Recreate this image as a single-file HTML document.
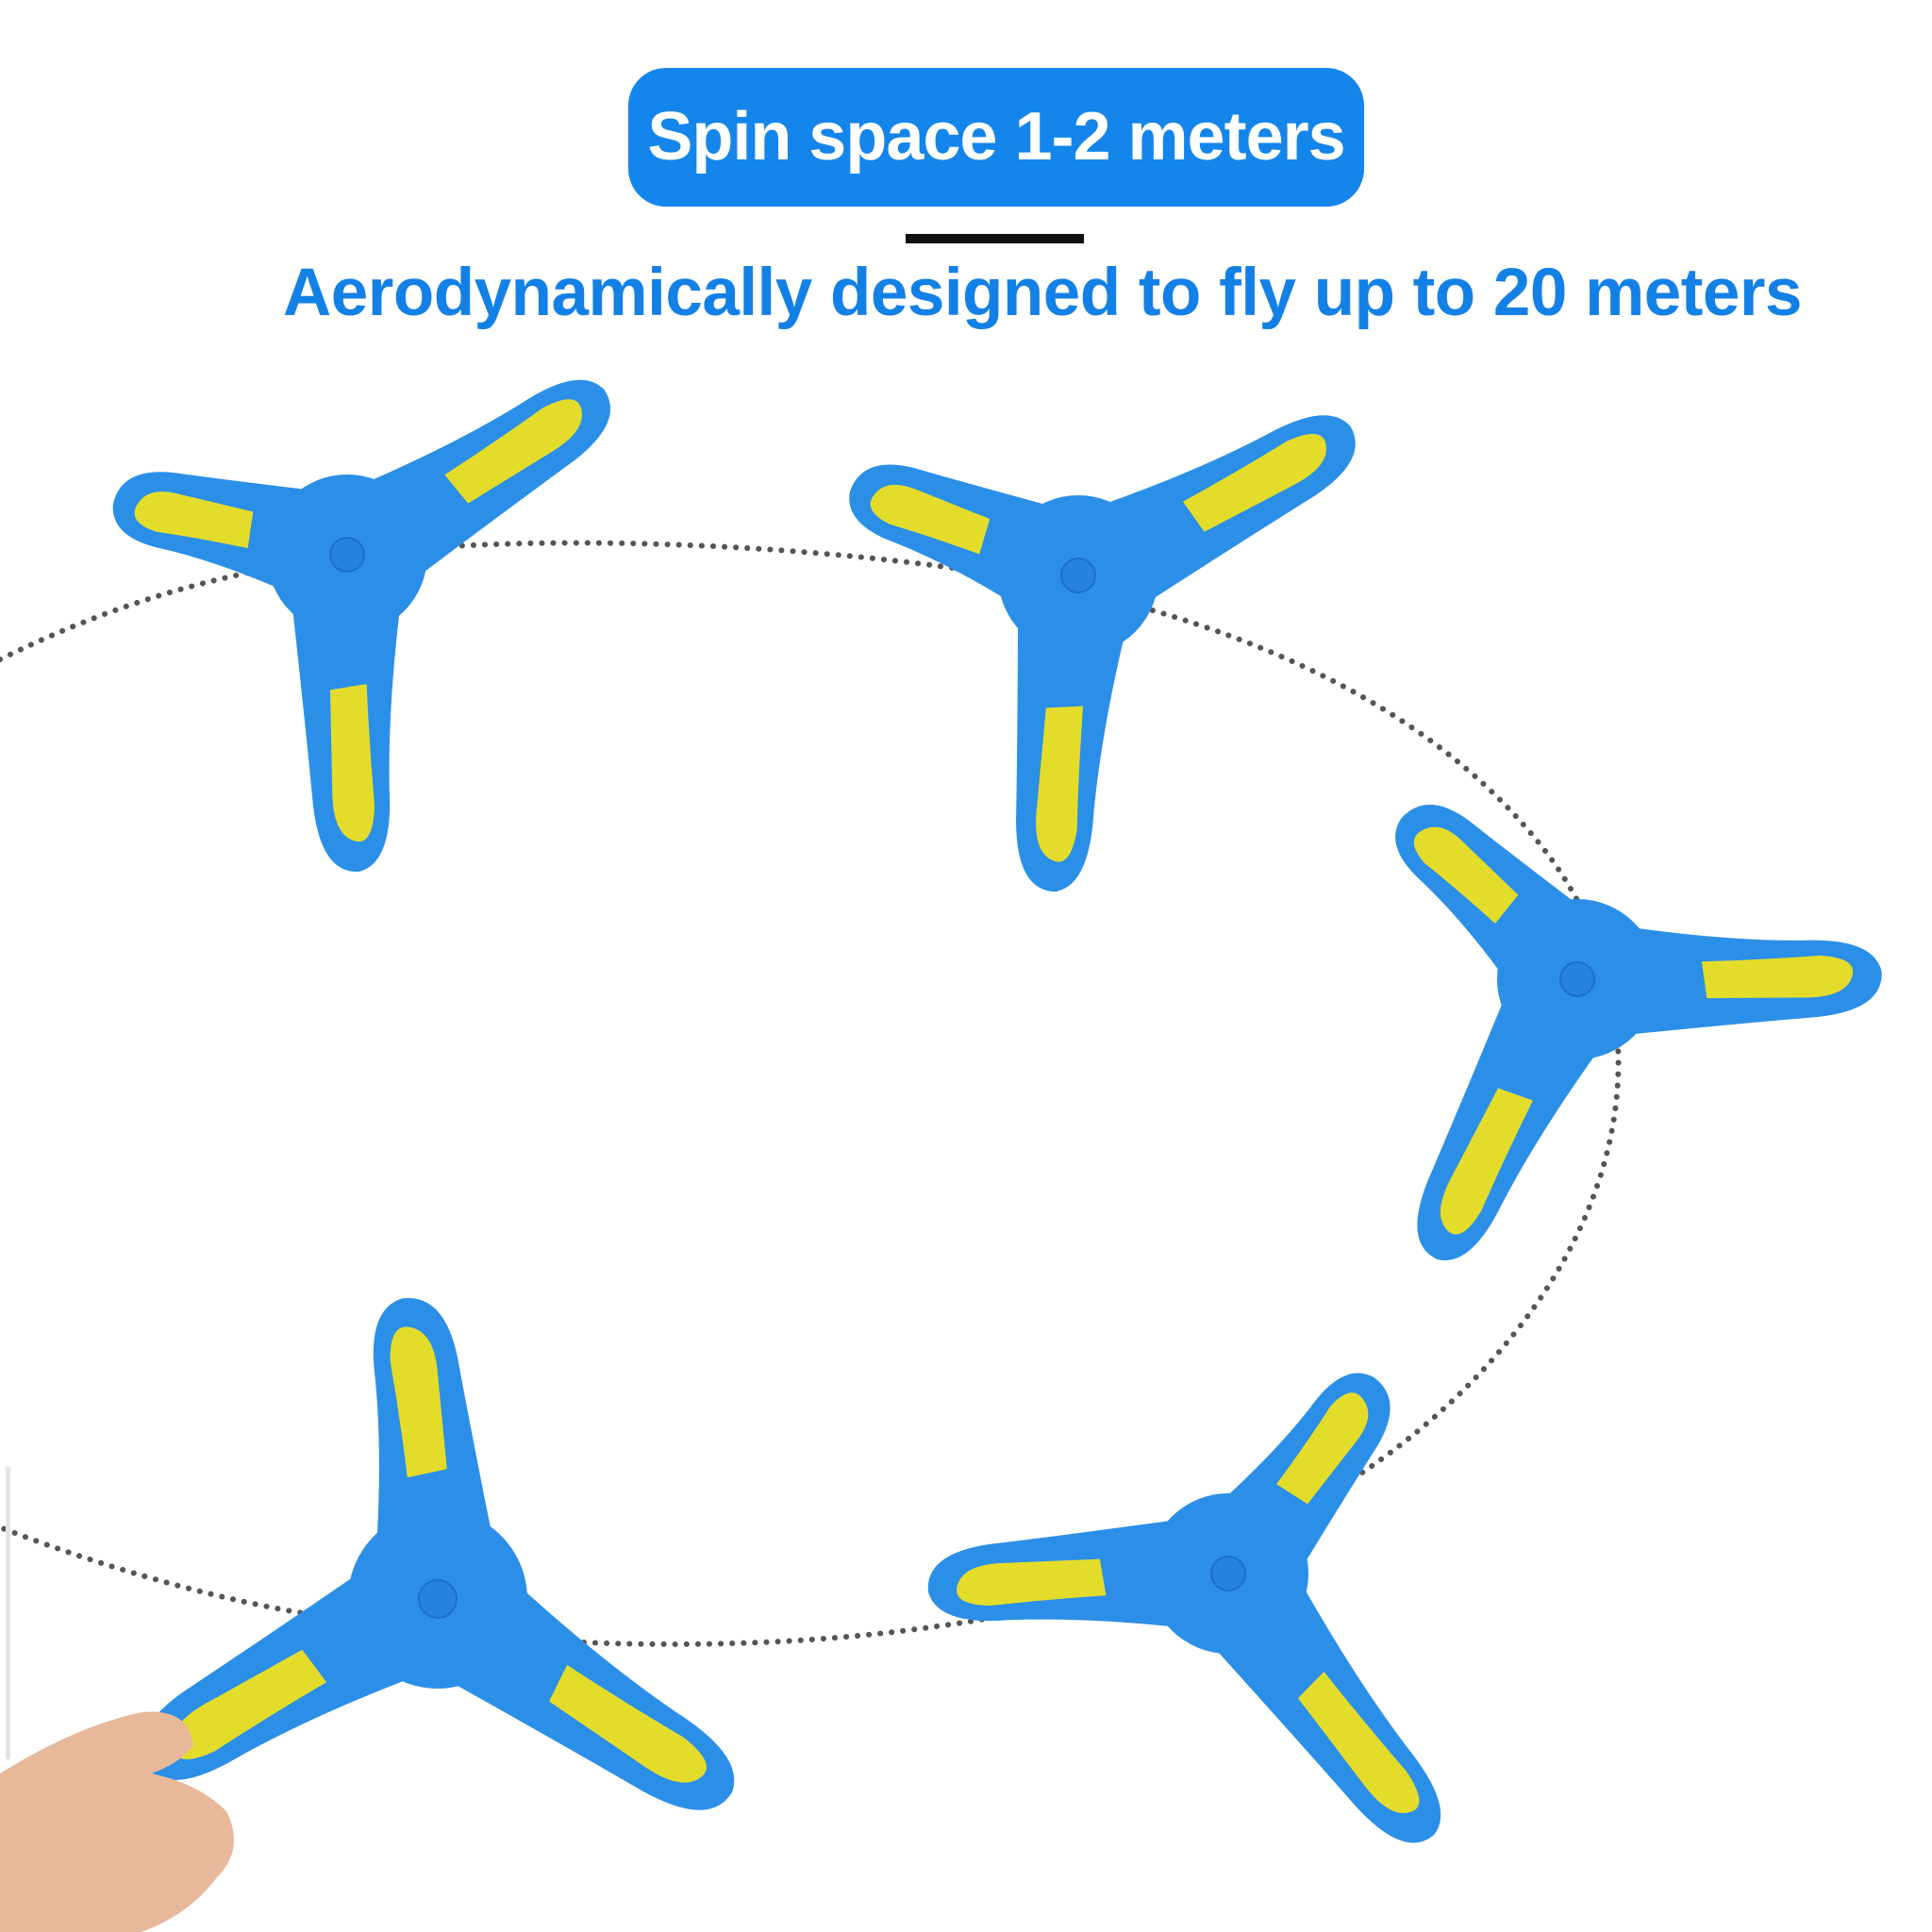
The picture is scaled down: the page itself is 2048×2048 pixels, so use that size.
<!DOCTYPE html>
<html><head><meta charset="utf-8"><style>
html,body{margin:0;padding:0;background:#fff;}
body{width:2048px;height:2048px;position:relative;overflow:hidden;font-family:"Liberation Sans",sans-serif;}
.pill{position:absolute;left:666px;top:72px;width:780px;height:147px;background:#1485ea;border-radius:40px;color:#fff;font-weight:bold;font-size:72px;line-height:147px;text-align:center;letter-spacing:-1px;}
.bar{position:absolute;left:960px;top:248px;width:189px;height:10px;background:#111;}
.sub{position:absolute;left:290px;top:270px;width:1630px;text-align:center;color:#1380e6;font-weight:bold;font-size:71px;letter-spacing:-0.5px;}
svg{position:absolute;left:0;top:0;}
</style></head><body>
<svg width="2048" height="2048" viewBox="0 0 2048 2048">
<defs>
<g id="arm">
<path d="M-10,-44 Q40,-28 76,-30 Q100,-33 103,-10 Q104,16 82,22 Q45,30 -10,44 Z" fill="#2b8fe8"/>
</g>
<g id="stripe">
<path d="M42,-14 Q62,-16 82,-20 Q95,-19 93,-6 Q91,8 78,9 Q60,10 44,11 Z" fill="#e4dc2a"/>
</g>
</defs>
<path d="M0,699 C100,650 200,615 330,595 C500,565 800,570 1045,607 C1300,650 1500,740 1620,880 C1760,1040 1740,1250 1600,1420 C1470,1580 1250,1690 993,1724 C800,1752 560,1750 327,1711 C200,1690 80,1650 0,1619" fill="none" stroke="#555" stroke-width="6" stroke-linecap="round" stroke-dasharray="0.1 12"/>
<g transform="translate(368,588)">
<circle r="85" fill="#2b8fe8"/>
<use href="#arm" transform="rotate(195.6) scale(2.46,1.55)"/>
<use href="#arm" transform="rotate(-30) scale(3.14,1.55)"/>
<use href="#arm" transform="rotate(90.4) scale(3.26,1.55)"/>
<use href="#stripe" transform="rotate(195.6) scale(2.46,1.55)"/>
<use href="#stripe" transform="rotate(-30) scale(3.14,1.55)"/>
<use href="#stripe" transform="rotate(90.4) scale(3.26,1.55)"/>
<circle r="18" fill="#2582de" stroke="#1c6fcc" stroke-width="2"/>
</g>
<g transform="translate(1143,610)">
<circle r="85" fill="#2b8fe8"/>
<use href="#arm" transform="rotate(203.8) scale(2.5,1.55)"/>
<use href="#arm" transform="rotate(-26) scale(3.19,1.55)"/>
<use href="#arm" transform="rotate(96.9) scale(3.26,1.55)"/>
<use href="#stripe" transform="rotate(203.8) scale(2.5,1.55)"/>
<use href="#stripe" transform="rotate(-26) scale(3.19,1.55)"/>
<use href="#stripe" transform="rotate(96.9) scale(3.26,1.55)"/>
<circle r="18" fill="#2582de" stroke="#1c6fcc" stroke-width="2"/>
</g>
<g transform="translate(1672,1038)">
<circle r="85" fill="#2b8fe8"/>
<use href="#arm" transform="rotate(226) scale(2.45,1.55)"/>
<use href="#arm" transform="rotate(1.3) scale(3.13,1.55)"/>
<use href="#arm" transform="rotate(119.2) scale(3.22,1.55)"/>
<use href="#stripe" transform="rotate(226) scale(2.45,1.55)"/>
<use href="#stripe" transform="rotate(1.3) scale(3.13,1.55)"/>
<use href="#stripe" transform="rotate(119.2) scale(3.22,1.55)"/>
<circle r="18" fill="#2582de" stroke="#1c6fcc" stroke-width="2"/>
</g>
<g transform="translate(464,1695)">
<circle r="95" fill="#2b8fe8"/>
<use href="#arm" transform="rotate(-93.7) scale(3.11,1.7)"/>
<use href="#arm" transform="rotate(35.9) scale(3.62,1.7)"/>
<use href="#arm" transform="rotate(152.5) scale(3.46,1.7)"/>
<use href="#stripe" transform="rotate(-93.7) scale(3.11,1.7)"/>
<use href="#stripe" transform="rotate(35.9) scale(3.62,1.7)"/>
<use href="#stripe" transform="rotate(152.5) scale(3.46,1.7)"/>
<circle r="20" fill="#2582de" stroke="#1c6fcc" stroke-width="2"/>
</g>
<g transform="translate(1302,1668)">
<circle r="85" fill="#2b8fe8"/>
<use href="#arm" transform="rotate(-50) scale(2.51,1.55)"/>
<use href="#arm" transform="rotate(179.3) scale(3.09,1.55)"/>
<use href="#arm" transform="rotate(54.3) scale(3.42,1.55)"/>
<use href="#stripe" transform="rotate(-50) scale(2.51,1.55)"/>
<use href="#stripe" transform="rotate(179.3) scale(3.09,1.55)"/>
<use href="#stripe" transform="rotate(54.3) scale(3.42,1.55)"/>
<circle r="18" fill="#2582de" stroke="#1c6fcc" stroke-width="2"/>
</g>
<path d="M0,1880 Q80,1830 150,1815 Q200,1810 205,1850 Q190,1870 160,1880 Q210,1890 240,1920 Q260,1960 230,1990 Q200,2030 150,2048 L0,2048 Z" fill="#e8b89a"/>
<rect x="6" y="1555" width="5" height="310" fill="#e4e4e4"/>
</svg>
<div class="pill">Spin space 1-2 meters</div>
<div class="bar"></div>
<div class="sub">Aerodynamically designed to fly up to 20 meters</div>
</body></html>
